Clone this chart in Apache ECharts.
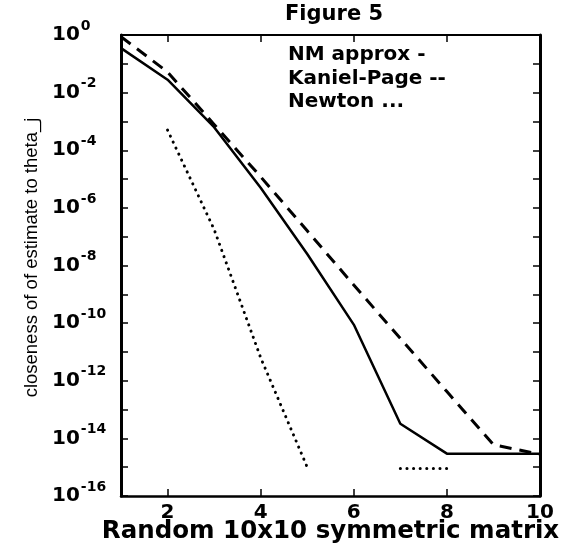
<!DOCTYPE html>
<html>
<head>
<meta charset="utf-8">
<script src="https://cdn.jsdelivr.net/npm/echarts@6/dist/echarts.min.js"></script>
<style>
  html, body { margin: 0; padding: 0; background: #fff; }
  #chart { width: 570px; height: 543px; }
</style>
</head>
<body>
<div id="chart"></div>
<script>
// ---- data ----
var xValues = [1, 2, 3, 4, 5, 6, 7, 8, 9, 10];
var nmApprox   = [3.5e-1, 2.8e-2, 6.3e-4, 5.0e-6, 2.5e-8, 8.9e-11, 3.2e-14, 2.95e-15, 2.95e-15, 2.95e-15];
var kanielPage = [8.7e-1, 5.2e-2, 7.9e-4, 1.2e-5, 1.6e-7, 2.1e-9, 2.95e-11, 4.2e-13, 6.0e-15, 2.8e-15];
var newton     = [null, 5.0e-4, 1.8e-7, 6.3e-12, 1.0e-15, null, 9.0e-16, 9.0e-16, null, null];
var seriesNames = ['NM approx', 'Kaniel-Page', 'Newton'];
var legendSuffix = { 'NM approx': ' -', 'Kaniel-Page': ' --', 'Newton': ' ...' };
var xTickValues = [2, 4, 6, 8, 10];
var titleText = 'Figure 5';
var xName = 'Random 10x10 symmetric matrix';
var yName = 'closeness of of estimate to theta_j';

function pairs(ys) {
  return xValues.map(function (x, i) { return [x, ys[i]]; });
}

var FONT = "'DejaVu Sans', sans-serif";
var chart = echarts.init(document.getElementById('chart'), null, { renderer: 'canvas' });

function yLabel(v) {
  var e = Math.round(Math.log(v) / Math.LN10);
  if (e % 2 !== 0) return '';
  return '{b|10}{s|' + e + '}';
}

chart.setOption({
  backgroundColor: '#fff',
  animation: false,
  title: {
    text: titleText,
    left: 285,
    top: 4,
    padding: 0,
    textStyle: { fontFamily: FONT, fontWeight: 'bold', fontSize: 21, color: '#000' }
  },
  legend: {
    orient: 'vertical',
    left: 278,
    top: 39,
    icon: 'none',
    itemWidth: 0,
    itemHeight: 14,
    itemGap: 1.5,
    data: seriesNames,
    formatter: function (n) { return n + legendSuffix[n]; },
    textStyle: { fontFamily: FONT, fontWeight: 'bold', fontSize: 20, lineHeight: 22, color: '#000' },
    selectedMode: false
  },
  grid: { left: 121, right: 30, top: 35, bottom: 47, containLabel: false, outerBoundsMode: 'none' },
  xAxis: [{
    type: 'value', position: 'bottom', min: 1, max: 10,
    axisLine: { show: true, lineStyle: { color: '#000', width: 2.5 } },
    axisTick: { show: true, inside: true, length: 7, customValues: xTickValues, lineStyle: { color: '#000', width: 1.5 } },
    axisLabel: { show: true, customValues: xTickValues, margin: 7, fontFamily: FONT, fontWeight: 'bold', fontSize: 20, color: '#000' },
    splitLine: { show: false },
    name: xName, nameLocation: 'middle', nameGap: 23, nameMoveOverlap: false,
    nameTextStyle: { fontFamily: FONT, fontWeight: 'bold', fontSize: 24.5, color: '#000' }
  }, {
    type: 'value', position: 'top', min: 1, max: 10,
    axisLine: { show: true, lineStyle: { color: '#000', width: 2 } },
    axisTick: { show: true, inside: true, length: 7, customValues: xTickValues, lineStyle: { color: '#000', width: 1.5 } },
    axisLabel: { show: false },
    splitLine: { show: false }
  }],
  yAxis: [{
    type: 'log', logBase: 10, position: 'left', min: 1e-16, max: 1, interval: 1,
    axisLine: { show: true, lineStyle: { color: '#000', width: 3 } },
    axisTick: { show: true, inside: true, length: 7, lineStyle: { color: '#000', width: 1.5 } },
    axisLabel: {
      show: true, margin: 69, align: 'left',
      formatter: yLabel,
      rich: {
        b: { fontFamily: FONT, fontWeight: 'bold', fontSize: 20, lineHeight: 32, color: '#000' },
        s: { fontFamily: FONT, fontWeight: 'bold', fontSize: 14, lineHeight: 14, color: '#000', verticalAlign: 'top', padding: [0, 0, 0, 1] }
      }
    },
    splitLine: { show: false },
    name: yName, nameLocation: 'middle', nameGap: 80, nameRotate: 90, nameMoveOverlap: false,
    nameTextStyle: { fontFamily: "'Liberation Sans', Arial, sans-serif", fontSize: 18.5, color: '#000', padding: [0, 0, 0, 16] }
  }, {
    type: 'log', logBase: 10, position: 'right', min: 1e-16, max: 1, interval: 1,
    axisLine: { show: true, lineStyle: { color: '#000', width: 3 } },
    axisTick: { show: true, inside: true, length: 7, lineStyle: { color: '#000', width: 1.5 } },
    axisLabel: { show: false },
    splitLine: { show: false }
  }],
  series: [{
    name: seriesNames[0], type: 'line', data: pairs(nmApprox),
    showSymbol: false, symbol: 'none', connectNulls: false,
    lineStyle: { color: '#000', width: 2.5, type: 'solid' }, itemStyle: { color: '#000' }
  }, {
    name: seriesNames[1], type: 'line', data: pairs(kanielPage),
    showSymbol: false, symbol: 'none', connectNulls: false,
    lineStyle: { color: '#000', width: 3, type: [12, 8] }, itemStyle: { color: '#000' }
  }, {
    name: seriesNames[2], type: 'line', data: pairs(newton),
    showSymbol: false, symbol: 'none', connectNulls: false,
    lineStyle: { color: '#000', width: 3, type: [0.1, 6.5], cap: 'round' }, itemStyle: { color: '#000' }
  }]
});
</script>
</body>
</html>
